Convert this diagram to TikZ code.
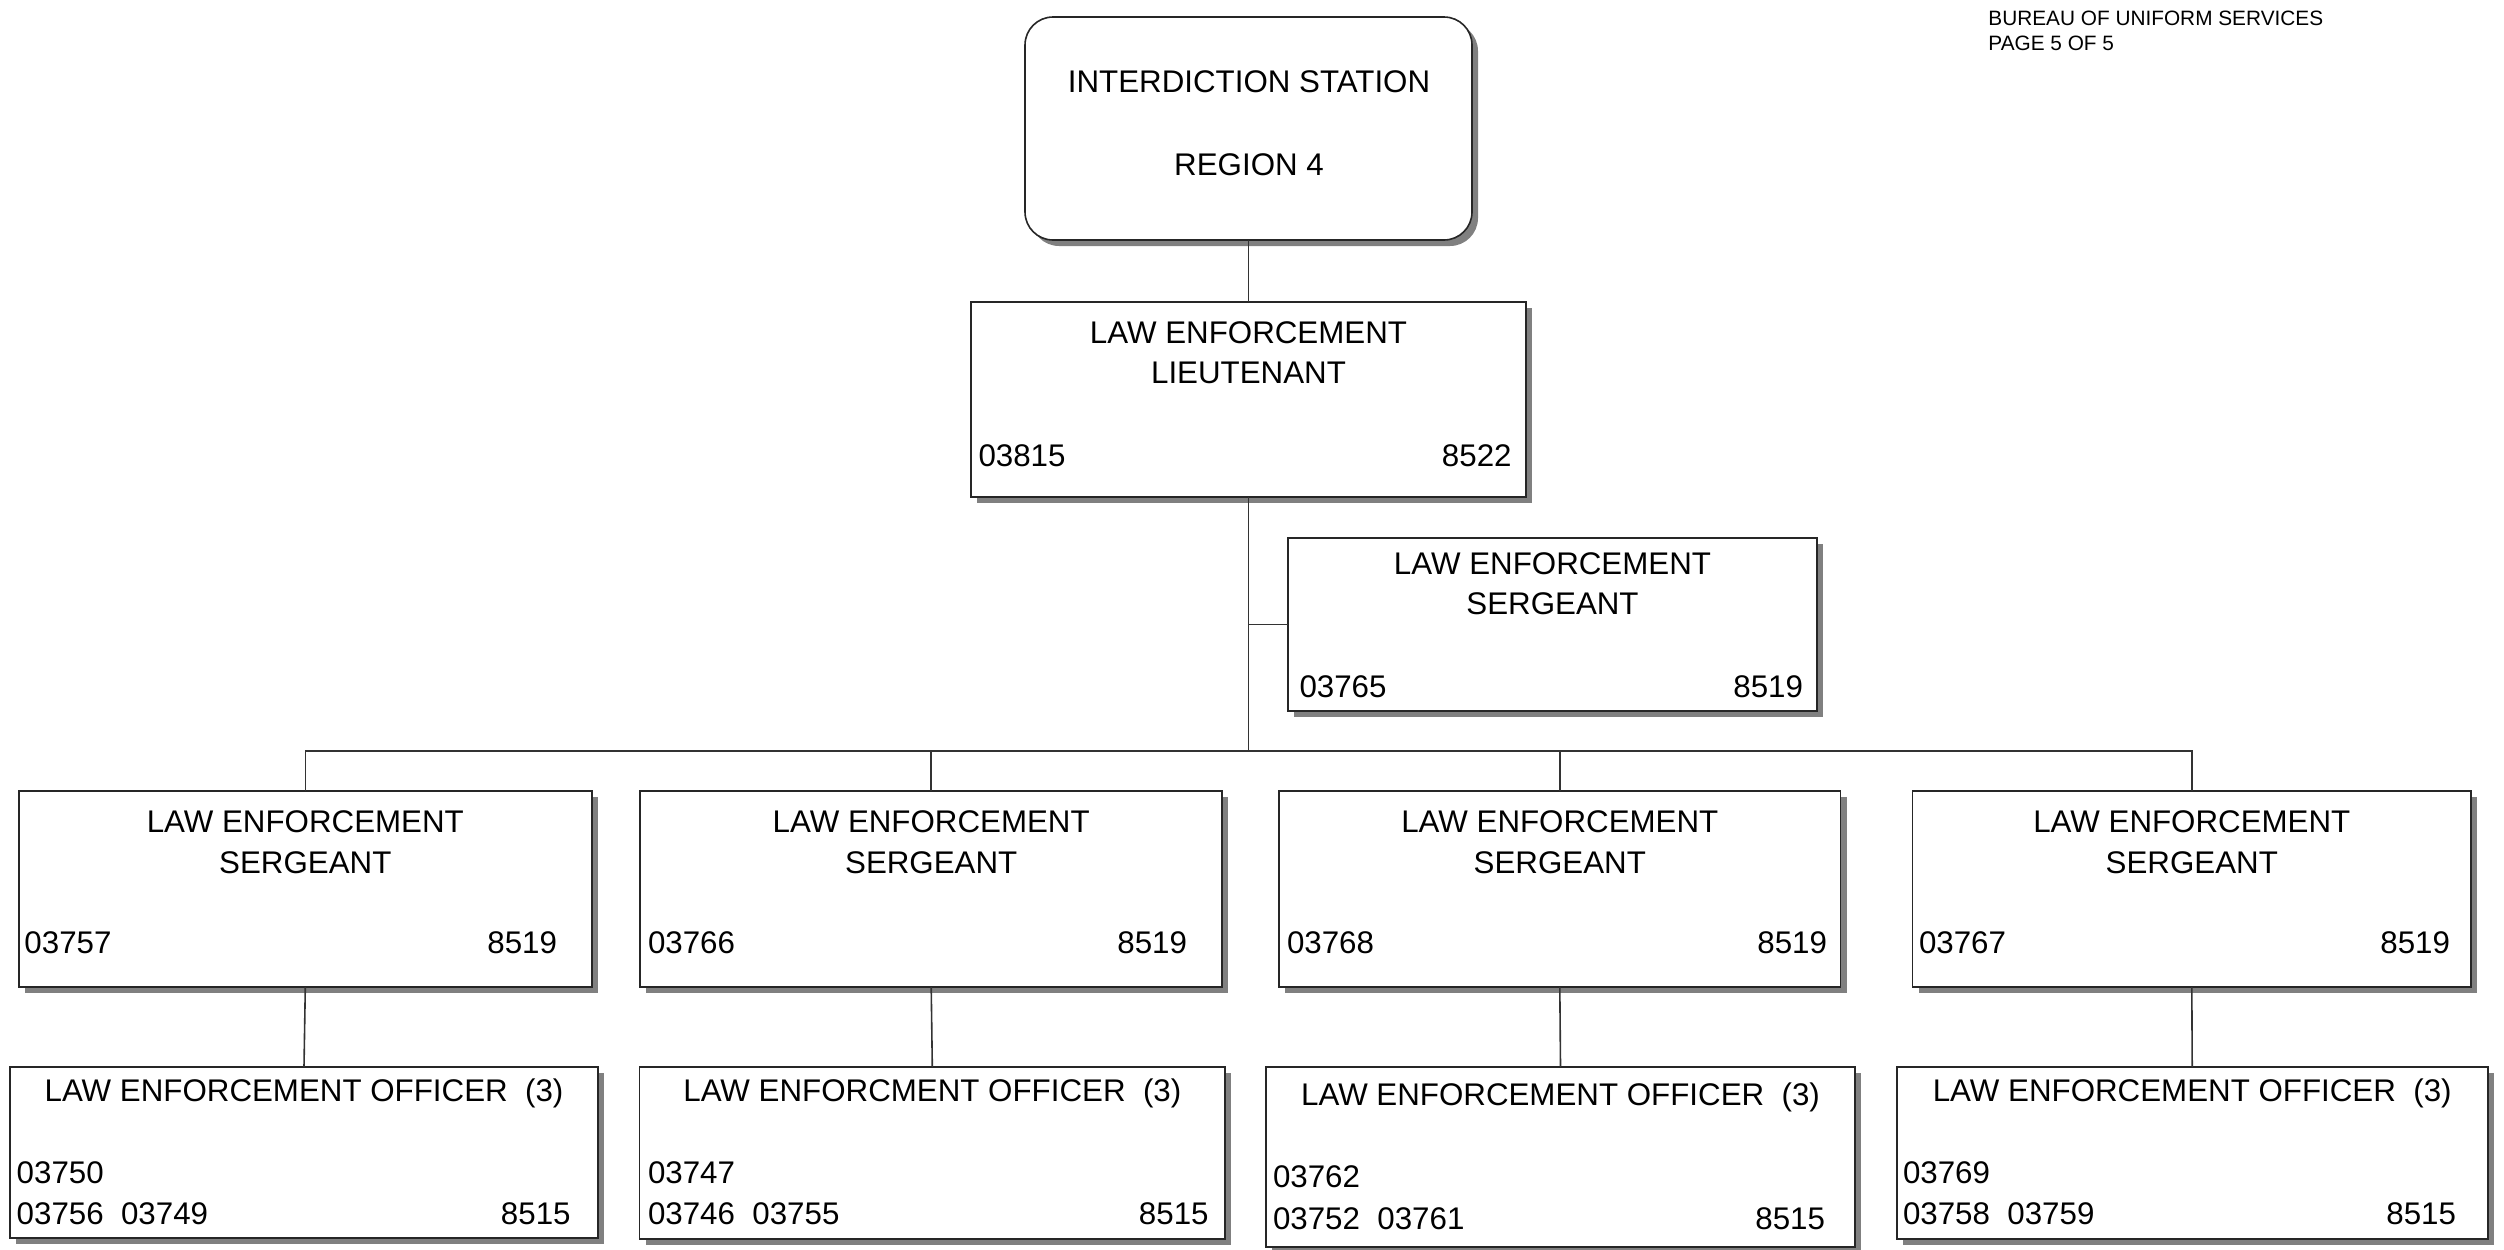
\documentclass[tikz,border=0pt]{standalone}
\usepackage{fontspec}
\setmainfont{Liberation Sans}
\usetikzlibrary{shadows}
\definecolor{shadowgray}{HTML}{808080}
\definecolor{linegray}{HTML}{333333}
\begin{document}
\begin{tikzpicture}[x=0.5pt,y=-0.5pt,
  box/.style={draw=black!85, line width=0.8pt, fill=white, inner sep=0pt, outer sep=0pt,
    drop shadow={shadow xshift=3pt, shadow yshift=-3pt, fill=shadowgray, opacity=1}},
  roundbox/.style={box, rounded corners=14pt},
  link/.style={draw=linegray, line width=0.8pt},
  txt/.style={inner sep=0pt, outer sep=0pt, font=\fontsize{15.65pt}{18pt}\selectfont},
  ctxt/.style={txt, anchor=base},
  ltxt/.style={txt, anchor=base west},
  rtxt/.style={txt, anchor=base east},
  hdr/.style={inner sep=0pt, anchor=base west, font=\fontsize{10.4pt}{12pt}\selectfont}]

\useasboundingbox (0,0) rectangle (2504,1249);

% page heading
\node[hdr] (hdr1) at (1988,25) {BUREAU OF UNIFORM SERVICES};
\node[hdr] (hdr2) at (1988,50.5) {PAGE 5 OF 5};

% boxes
\node[roundbox, minimum width=223.5pt, minimum height=111.5pt] (station) at (1248.5,128.5) {};
\node[box, minimum width=277.5pt, minimum height=97.5pt] (lt) at (1248.5,399.5) {};
\node[box, minimum width=264.5pt, minimum height=86.5pt] (sgt0) at (1552.5,624.5) {};
\node[box, minimum width=286.5pt, minimum height=98pt] (sgt1) at (305.3,889) {};
\node[box, minimum width=291pt, minimum height=98pt] (sgt2) at (931.2,889) {};
\node[box, minimum width=280.75pt, minimum height=98pt] (sgt3) at (1559.8,889) {};
\node[box, minimum width=279.2pt, minimum height=98pt] (sgt4) at (2191.8,889) {};
\node[box, minimum width=294pt, minimum height=85.5pt] (off1) at (304,1152.5) {};
\node[box, minimum width=292.7pt, minimum height=86pt] (off2) at (932.3,1153) {};
\node[box, minimum width=294.5pt, minimum height=90pt] (off3) at (1560.5,1157) {};
\node[box, minimum width=295.5pt, minimum height=86pt] (off4) at (2192.2,1153) {};

% connectors
\coordinate (bus) at (1248.5,751);
\draw[link] (station.south) -- (lt.north);
\draw[link] (lt.south) -- (bus);
\draw[link] (lt.south |- sgt0.west) -- (sgt0.west);
\draw[link] (sgt1.north) |- (bus) -| (sgt4.north);
\draw[link] (sgt2.north) -- (sgt2.north |- bus);
\draw[link] (sgt3.north) -- (sgt3.north |- bus);
\draw[link] (sgt1.south) -- (off1.north);
\draw[link] (sgt2.south) -- (off2.north);
\draw[link] (sgt3.south) -- (off3.north);
\draw[link] (sgt4.south) -- (off4.north);

% station
\node[ctxt] (stationA) at (1249,92) {INTERDICTION STATION};
\node[ctxt] (stationB) at (1249,175) {REGION 4};

% lieutenant
\node[ctxt] (ltA) at (1248.5,343) {LAW ENFORCEMENT};
\node[ctxt] (ltB) at (1248.5,383) {LIEUTENANT};
\node[ltxt] (ltP) at (978.5,466) {03815};
\node[rtxt] (ltC) at (1511.6,466) {8522};

% staff sergeant beside the lieutenant
\node[ctxt] (s0A) at (1552.5,574) {LAW ENFORCEMENT};
\node[ctxt] (s0B) at (1552.5,614) {SERGEANT};
\node[ltxt] (s0P) at (1299.5,697) {03765};
\node[rtxt] (s0C) at (1803,697) {8519};

% sergeants
\node[ctxt] (s1A) at (305.3,832) {LAW ENFORCEMENT};
\node[ctxt] (s1B) at (305.3,873) {SERGEANT};
\node[ltxt] (s1P) at (24.5,953) {03757};
\node[rtxt] (s1C) at (557,953) {8519};

\node[ctxt] (s2A) at (931.2,832) {LAW ENFORCEMENT};
\node[ctxt] (s2B) at (931.2,873) {SERGEANT};
\node[ltxt] (s2P) at (648,953) {03766};
\node[rtxt] (s2C) at (1187,953) {8519};

\node[ctxt] (s3A) at (1559.8,832) {LAW ENFORCEMENT};
\node[ctxt] (s3B) at (1559.8,873) {SERGEANT};
\node[ltxt] (s3P) at (1287,953) {03768};
\node[rtxt] (s3C) at (1827,953) {8519};

\node[ctxt] (s4A) at (2191.8,832) {LAW ENFORCEMENT};
\node[ctxt] (s4B) at (2191.8,873) {SERGEANT};
\node[ltxt] (s4P) at (1919,953) {03767};
\node[rtxt] (s4C) at (2450,953) {8519};

% officers
\node[ctxt] (o1A) at (304,1101) {LAW ENFORCEMENT OFFICER~~(3)};
\node[ltxt] (o1P) at (16.7,1183) {03750};
\node[ltxt] (o1Q) at (16.7,1224) {03756~~03749};
\node[rtxt] (o1C) at (570.6,1224) {8515};

\node[ctxt] (o2A) at (932.3,1101) {LAW ENFORCMENT OFFICER~~(3)};
\node[ltxt] (o2P) at (648,1183) {03747};
\node[ltxt] (o2Q) at (648,1224) {03746~~03755};
\node[rtxt] (o2C) at (1208.6,1224) {8515};

\node[ctxt] (o3A) at (1560.5,1105) {LAW ENFORCEMENT OFFICER~~(3)};
\node[ltxt] (o3P) at (1273,1187) {03762};
\node[ltxt] (o3Q) at (1273,1229) {03752~~03761};
\node[rtxt] (o3C) at (1825,1229) {8515};

\node[ctxt] (o4A) at (2192.2,1101) {LAW ENFORCEMENT OFFICER~~(3)};
\node[ltxt] (o4P) at (1903,1183) {03769};
\node[ltxt] (o4Q) at (1903,1224) {03758~~03759};
\node[rtxt] (o4C) at (2456,1224) {8515};
\end{tikzpicture}
\end{document}
